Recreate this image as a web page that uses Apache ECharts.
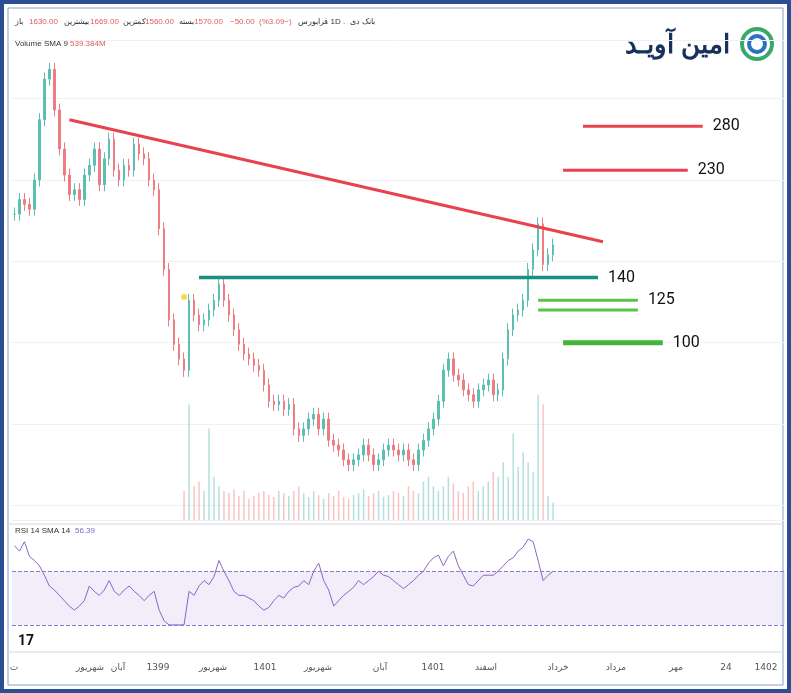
<!DOCTYPE html>
<html><head><meta charset="utf-8">
<script src="https://cdn.jsdelivr.net/npm/echarts@6/dist/echarts.min.js"></script>
<style>
html,body{margin:0;padding:0;background:#fff}
#c{width:791px;height:693px}
</style></head><body>
<div id="c"></div>
<script>
// closes, one bar every ~5px
var closes=[179,188,185,182,200,237,262,268,243,219,
203,191,194,188,203,209,219,197,213,225,
206,200,209,206,222,216,213,200,194,170,
145,114,99,90,83,126,117,111,114,120,
126,136,126,117,108,99,93,90,86,83,
74,64,62,64,59,62,47,43,47,53,
56,47,53,40,37,34,28,25,28,31,
37,31,25,28,34,37,34,31,34,28,
25,34,40,47,53,64,83,90,80,77,
71,68,64,71,74,77,68,71,90,108,
117,120,126,145,157,173,148,154,160];
var volumes=[0,0,0,0,0,0,0,0,0,0,0,0,0,0,0,0,0,0,0,0,0,0,0,0,0,0,0,0,0,0,0,0,0,0,
30,120,35,40,30,95,45,35,30,28,32,25,30,22,25,28,30,26,24,30,28,25,30,35,28,24,
30,26,22,28,25,30,24,22,26,28,32,25,28,30,24,26,30,28,25,35,30,28,40,45,35,30,
35,45,38,30,28,35,40,30,35,40,50,45,60,45,90,55,70,60,50,130,120,25,18];
var rsi=[89,85,92,81,78,74,67,59,56,52,48,44,41,44,48,59,55,52,56,63,55,52,56,59,55,
52,48,52,55,41,33,30,30,30,30,55,52,59,63,60,66,78,70,63,55,52,52,50,48,44,
41,43,48,52,50,55,58,59,63,60,70,76,63,56,44,48,52,55,58,63,60,63,66,70,67,
66,63,60,57,60,63,67,70,76,80,82,74,81,85,74,67,60,59,63,67,67,67,70,74,78,
80,85,88,94,92,78,63,67,70];
var totalBars=155;
// level lines: [startIdx, endIdx, position, label, colour, width]
var levels=[
  [114,138,233,'280','#e8424f',3],
  [110,135,206,'230','#e8424f',3],
  [37,117,140,'140','#18907e',3.5],
  [105,125,126,'125','#5cc24a',3],
  [105,125,120,'','#5cc24a',3],
  [110,130,100,'100','#44b53a',5]
];
var trend=[[11,237],[118,162]];
var axisLabels=[[14,'ت'],[90,'شهریور'],[118,'آبان'],[158,'1399'],[213,'شهریور'],[265,'1401'],[318,'شهریور'],[380,'آبان'],[433,'1401'],[486,'اسفند'],[558,'خرداد'],[616,'مرداد'],[676,'مهر'],[726,'24'],[766,'1402']];
// header pieces: [left x, text, colour]
var header=[[15,'باز','#333'],[29,'1630.00','#e05a5a'],[64,'بیشترین','#333'],[90,'1669.00','#e05a5a'],[123,'کمترین','#333'],[145,'1560.00','#e05a5a'],[179,'بسته','#333'],[194,'1570.00','#e05a5a'],[230,'−50.00','#e05a5a'],[259,'(%3.09−)','#e05a5a'],[298,'فرابورس','#333'],[326,'. 1D .','#333'],[350,'بانک دی','#333']];

var cats=[];for(var i=0;i<totalBars;i++)cats.push(i);
var ohlc=closes.map(function(c,i){var o=i?closes[i-1]:c;return [o,c,Math.min(o,c)-4,Math.max(o,c)+4];});
var volData=volumes.map(function(v,i){return {value:v||'-',itemStyle:{color:(i&&closes[i]<closes[i-1])?'rgba(239,83,80,0.35)':'rgba(38,166,154,0.35)'}};});

var series=[{type:'candlestick',data:ohlc,barWidth:2,xAxisIndex:0,yAxisIndex:0,
  itemStyle:{color:'#5bbfb2',color0:'#ee7d83',borderColor:'#5bbfb2',borderColor0:'#ee7d83'}},
 {type:'bar',data:volData,xAxisIndex:1,yAxisIndex:1,barWidth:1.5},
 {type:'line',data:rsi,xAxisIndex:2,yAxisIndex:2,symbol:'none',lineStyle:{color:'#8467c7',width:1},
  markArea:{silent:true,itemStyle:{color:'rgba(126,87,194,0.1)'},data:[[{yAxis:30},{yAxis:70}]]},
  markLine:{silent:true,symbol:'none',label:{show:false},lineStyle:{color:'#9575cd',type:'dashed',width:1},data:[{yAxis:70},{yAxis:30}]}},
 {type:'line',data:trend,xAxisIndex:0,yAxisIndex:0,symbol:'none',lineStyle:{color:'#e8424f',width:3}}
];
levels.forEach(function(l){
  series.push({type:'line',xAxisIndex:0,yAxisIndex:0,symbol:'none',lineStyle:{color:l[4],width:l[5]},
    data:[[l[0],l[2]],[l[1],l[2]]],
    endLabel:{show:!!l[3],formatter:l[3],color:'#111',fontSize:16,fontFamily:'Roboto',offset:[2,0]}});
});
series.push({type:'scatter',xAxisIndex:0,yAxisIndex:0,data:[[34,128]],symbolSize:6,itemStyle:{color:'#f2d21b'}});

var chart=echarts.init(document.getElementById('c'));
chart.setOption({
  animation:false,
  grid:[{left:12,right:6,top:40,height:480},{left:12,right:6,top:390,height:130},{left:12,right:6,top:535,height:110}],
  xAxis:[0,1,2].map(function(g){return {type:'category',data:cats,gridIndex:g,axisLine:{show:false},axisTick:{show:false},axisLabel:{show:false},splitLine:{show:false}};}),
  yAxis:[{gridIndex:0,min:-9,max:286,show:true,axisLabel:{show:false},axisLine:{show:false},axisTick:{show:false},splitLine:{lineStyle:{color:'#f1f1f4'}}},
         {gridIndex:1,min:0,max:135,show:false},
         {gridIndex:2,min:15,max:97,show:false}],
  series:series,
  graphic:[
    {type:'rect',shape:{x:2,y:2,width:787,height:689},style:{fill:'none',stroke:'#2c4f94',lineWidth:4}},
    {type:'rect',shape:{x:8,y:8,width:775,height:677},style:{fill:'none',stroke:'#8aa0c8',lineWidth:1}},
    {type:'line',shape:{x1:8,y1:524,x2:783,y2:524},style:{stroke:'#d8d8e0',lineWidth:1}},
    {type:'line',shape:{x1:8,y1:652,x2:783,y2:652},style:{stroke:'#d8d8e0',lineWidth:1}},
    {type:'text',x:15,y:44,style:{text:'Volume SMA 9',fill:'#333',font:'8px "Liberation Sans"',textVerticalAlign:'middle'}},
    {type:'text',x:70,y:44,style:{text:'539.384M',fill:'#e05a5a',font:'8px "Liberation Sans"',textVerticalAlign:'middle'}},
    {type:'text',x:15,y:531,style:{text:'RSI 14 SMA 14',fill:'#333',font:'8px "Liberation Sans"',textVerticalAlign:'middle'}},
    {type:'text',x:75,y:531,style:{text:'56.39',fill:'#8467c7',font:'8px "Liberation Sans"',textVerticalAlign:'middle'}},
    {type:'text',x:18,y:641,style:{text:'17',fill:'#111',font:'bold 14px Roboto',textVerticalAlign:'middle'}},
    {type:'text',x:730,y:46,style:{text:'امین آویـد',fill:'#16325c',font:'bold 26px "Noto Sans"',textAlign:'right',textVerticalAlign:'middle'}},
    {type:'circle',shape:{cx:757,cy:44,r:15},style:{fill:'none',stroke:'#3aa86b',lineWidth:4}},
    {type:'circle',shape:{cx:757,cy:44,r:8},style:{fill:'none',stroke:'#2a72c0',lineWidth:4}}
  ].concat(header.map(function(h){return {type:'text',x:h[0],y:22,style:{text:h[1],fill:h[2],font:'8px "Liberation Sans"',textVerticalAlign:'middle'}};}))
   .concat(axisLabels.map(function(a){return {type:'text',x:a[0],y:668,style:{text:a[1],fill:'#555',font:'9px "DejaVu Sans"',textAlign:'center',textVerticalAlign:'middle'}};}))
});
</script></body></html>
